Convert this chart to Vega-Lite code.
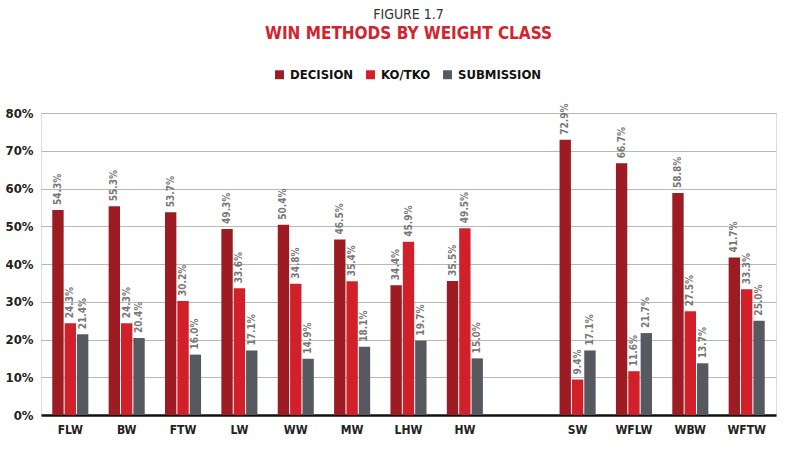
{
  "$schema": "https://vega.github.io/schema/vega-lite/v6.json",
  "width": 735,
  "height": 302,
  "padding": {"left": 5, "top": 8, "right": 6, "bottom": 1},
  "background": "white",
  "title": {
    "text": "FIGURE 1.7",
    "subtitle": "WIN METHODS BY WEIGHT CLASS",
    "anchor": "middle",
    "font": "DejaVu Sans Condensed",
    "fontSize": 14,
    "fontWeight": "normal",
    "color": "#333333",
    "subtitleFont": "DejaVu Sans Condensed",
    "subtitleFontSize": 17,
    "subtitleFontWeight": "bold",
    "subtitleColor": "#D2232E",
    "subtitlePadding": 4,
    "offset": 26
  },
  "data": {
    "values": [
      {"cls": "FLW", "method": "DECISION", "v": 0.543},
      {"cls": "FLW", "method": "KO/TKO", "v": 0.243},
      {"cls": "FLW", "method": "SUBMISSION", "v": 0.214},
      {"cls": "BW", "method": "DECISION", "v": 0.553},
      {"cls": "BW", "method": "KO/TKO", "v": 0.243},
      {"cls": "BW", "method": "SUBMISSION", "v": 0.204},
      {"cls": "FTW", "method": "DECISION", "v": 0.537},
      {"cls": "FTW", "method": "KO/TKO", "v": 0.302},
      {"cls": "FTW", "method": "SUBMISSION", "v": 0.160},
      {"cls": "LW", "method": "DECISION", "v": 0.493},
      {"cls": "LW", "method": "KO/TKO", "v": 0.336},
      {"cls": "LW", "method": "SUBMISSION", "v": 0.171},
      {"cls": "WW", "method": "DECISION", "v": 0.504},
      {"cls": "WW", "method": "KO/TKO", "v": 0.348},
      {"cls": "WW", "method": "SUBMISSION", "v": 0.149},
      {"cls": "MW", "method": "DECISION", "v": 0.465},
      {"cls": "MW", "method": "KO/TKO", "v": 0.354},
      {"cls": "MW", "method": "SUBMISSION", "v": 0.181},
      {"cls": "LHW", "method": "DECISION", "v": 0.344},
      {"cls": "LHW", "method": "KO/TKO", "v": 0.459},
      {"cls": "LHW", "method": "SUBMISSION", "v": 0.197},
      {"cls": "HW", "method": "DECISION", "v": 0.355},
      {"cls": "HW", "method": "KO/TKO", "v": 0.495},
      {"cls": "HW", "method": "SUBMISSION", "v": 0.150},
      {"cls": "SW", "method": "DECISION", "v": 0.729},
      {"cls": "SW", "method": "KO/TKO", "v": 0.094},
      {"cls": "SW", "method": "SUBMISSION", "v": 0.171},
      {"cls": "WFLW", "method": "DECISION", "v": 0.667},
      {"cls": "WFLW", "method": "KO/TKO", "v": 0.116},
      {"cls": "WFLW", "method": "SUBMISSION", "v": 0.217},
      {"cls": "WBW", "method": "DECISION", "v": 0.588},
      {"cls": "WBW", "method": "KO/TKO", "v": 0.275},
      {"cls": "WBW", "method": "SUBMISSION", "v": 0.137},
      {"cls": "WFTW", "method": "DECISION", "v": 0.417},
      {"cls": "WFTW", "method": "KO/TKO", "v": 0.333},
      {"cls": "WFTW", "method": "SUBMISSION", "v": 0.250}
    ]
  },
  "encoding": {
    "x": {
      "field": "cls",
      "type": "nominal",
      "scale": {
        "domain": ["FLW", "BW", "FTW", "LW", "WW", "MW", "LHW", "HW", " ", "SW", "WFLW", "WBW", "WFTW"],
        "paddingInner": 0.36,
        "paddingOuter": 0.2
      },
      "axis": {
        "title": null,
        "labelAngle": 0,
        "labelFont": "DejaVu Sans Condensed",
        "labelFontSize": 12,
        "labelFontWeight": "bold",
        "labelColor": "#222222",
        "labelPadding": 9,
        "ticks": false,
        "domainColor": "#111111",
        "domainWidth": 2.5
      }
    },
    "xOffset": {
      "field": "method",
      "type": "nominal",
      "sort": ["DECISION", "KO/TKO", "SUBMISSION"],
      "scale": {"paddingInner": 0.08}
    },
    "y": {
      "field": "v",
      "type": "quantitative",
      "scale": {"domain": [0, 0.8]},
      "axis": {
        "title": null,
        "format": ".0%",
        "values": [0, 0.1, 0.2, 0.3, 0.4, 0.5, 0.6, 0.7, 0.8],
        "labelOverlap": false,
        "labelFont": "DejaVu Sans Condensed",
        "labelFontSize": 13,
        "labelFontWeight": "bold",
        "labelColor": "#222222",
        "labelPadding": 8,
        "domain": false,
        "ticks": false,
        "gridColor": "#b8b8b8",
        "gridWidth": 1
      }
    }
  },
  "layer": [
    {
      "mark": {"type": "bar"},
      "encoding": {
        "color": {
          "field": "method",
          "type": "nominal",
          "scale": {
            "domain": ["DECISION", "KO/TKO", "SUBMISSION"],
            "range": ["#9D1C24", "#D2202B", "#575961"]
          },
          "legend": {
            "title": null,
            "orient": "none",
            "direction": "horizontal",
            "legendX": 232,
            "legendY": -45,
            "symbolType": "square",
            "symbolSize": 80,
            "symbolStrokeWidth": 0,
            "labelFont": "DejaVu Sans Condensed",
            "labelFontSize": 13,
            "labelFontWeight": "bold",
            "labelColor": "#111111",
            "columnPadding": 10,
            "labelOffset": 4
          }
        }
      }
    },
    {
      "mark": {
        "type": "text",
        "angle": -90,
        "align": "left",
        "baseline": "middle",
        "dx": 5,
        "font": "DejaVu Sans Condensed",
        "fontSize": 10,
        "fontWeight": "bold",
        "color": "#777777"
      },
      "encoding": {
        "text": {"field": "v", "type": "quantitative", "format": ".1%"}
      }
    }
  ]
}
